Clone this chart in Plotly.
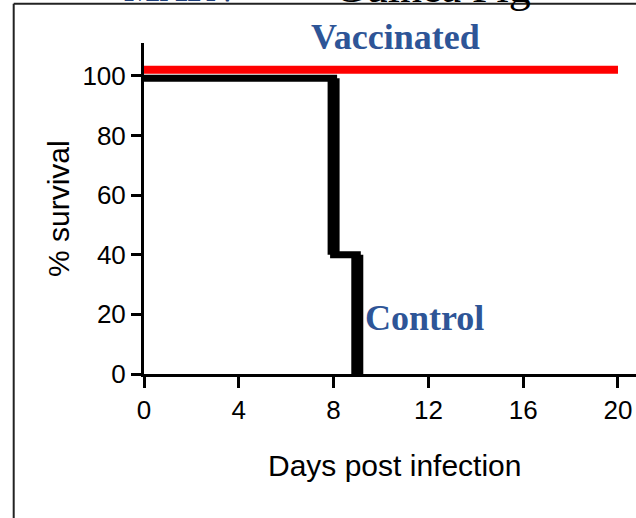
import plotly.graph_objects as go

# Data
control_days = [0, 8, 9]
control_survival = [99.2, 40, 0]
vacc_days = [0, 20]
vacc_survival = [102, 102]
x_ticks = [0, 4, 8, 12, 16, 20]
y_ticks = [0, 20, 40, 60, 80, 100]

W, H = 636, 518
L, R, T, B = 144, 0, 43, 144
pw, ph = W - L - R, H - T - B

def px_x(p):
    return (p - L) / pw

def px_y(p):
    return (H - B - p) / ph

fig = go.Figure()

# Control step curve
fig.add_trace(go.Scatter(
    x=control_days, y=control_survival, mode="lines",
    line=dict(color="black", width=7, shape="hv"),
    showlegend=False, hoverinfo="skip", cliponaxis=False))

# thicker vertical drops (derived from the control data)
vx, vy = [], []
for i in range(1, len(control_days)):
    vx += [control_days[i], control_days[i], None]
    vy += [control_survival[i - 1], control_survival[i], None]
fig.add_trace(go.Scatter(
    x=vx, y=vy, mode="lines",
    line=dict(color="black", width=12),
    showlegend=False, hoverinfo="skip", cliponaxis=False))

# Vaccinated
fig.add_trace(go.Scatter(
    x=vacc_days, y=vacc_survival, mode="lines",
    line=dict(color="#FF0000", width=8),
    showlegend=False, hoverinfo="skip", cliponaxis=False))

tick_font = dict(family="Liberation Sans, Arial, sans-serif", size=26, color="black")
title_font = dict(family="Liberation Sans, Arial, sans-serif", size=30, color="black")
label_font = dict(family="Liberation Serif, Times New Roman, serif", size=36, color="#2E5597")

fig.update_layout(
    width=W, height=H,
    margin=dict(l=L, r=R, t=T, b=B, pad=0),
    paper_bgcolor="white", plot_bgcolor="white",
    xaxis=dict(range=[0, 20.76], tickvals=x_ticks, ticktext=[str(v) for v in x_ticks],
               ticks="outside", ticklen=11, tickwidth=3, tickcolor="black",
               showline=True, linewidth=3, linecolor="black",
               showgrid=False, zeroline=False, tickfont=tick_font),
    yaxis=dict(range=[0, 111], tickvals=y_ticks, ticktext=[str(v) for v in y_ticks],
               ticks="outside", ticklen=10, tickwidth=3, tickcolor="black",
               showline=True, linewidth=3, linecolor="black",
               showgrid=False, zeroline=False, tickfont=tick_font),
    annotations=[
        dict(text="% survival", xref="paper", yref="paper", x=px_x(58), y=px_y(209),
             textangle=-90, showarrow=False, font=title_font,
             xanchor="center", yanchor="middle"),
        dict(text="Days post infection", xref="paper", yref="paper", x=px_x(394), y=px_y(466),
             showarrow=False, font=title_font, xanchor="center", yanchor="middle"),
        dict(text="<b>Vaccinated</b>", xref="paper", yref="paper", x=px_x(395), y=px_y(37),
             showarrow=False, font=label_font, xanchor="center", yanchor="middle"),
        dict(text="<b>Control</b>", xref="paper", yref="paper", x=px_x(424), y=px_y(318),
             showarrow=False, font=label_font, xanchor="center", yanchor="middle"),
        dict(text="<b>MARV</b>", xref="paper", yref="paper", x=px_x(182), y=px_y(11),
             showarrow=False, font=dict(family="Liberation Serif, serif", size=38, color="#1F3F7A"),
             xanchor="center", yanchor="bottom"),
        dict(text="Guinea Pig", xref="paper", yref="paper", x=px_x(432), y=px_y(14),
             showarrow=False, font=dict(family="Liberation Serif, serif", size=44, color="black"),
             xanchor="center", yanchor="bottom"),
    ],
    shapes=[
        dict(type="line", xref="paper", yref="paper", x0=px_x(13.7), x1=px_x(700),
             y0=px_y(3.7), y1=px_y(3.7), line=dict(color="#222222", width=2)),
        dict(type="line", xref="paper", yref="paper", x0=px_x(13.7), x1=px_x(13.7),
             y0=px_y(3.7), y1=px_y(600), line=dict(color="#222222", width=2)),
    ],
)

fig.write_html("out.html", config={"displayModeBar": False},
               post_script="document.body.style.margin='0px';document.body.style.overflow='hidden';")
